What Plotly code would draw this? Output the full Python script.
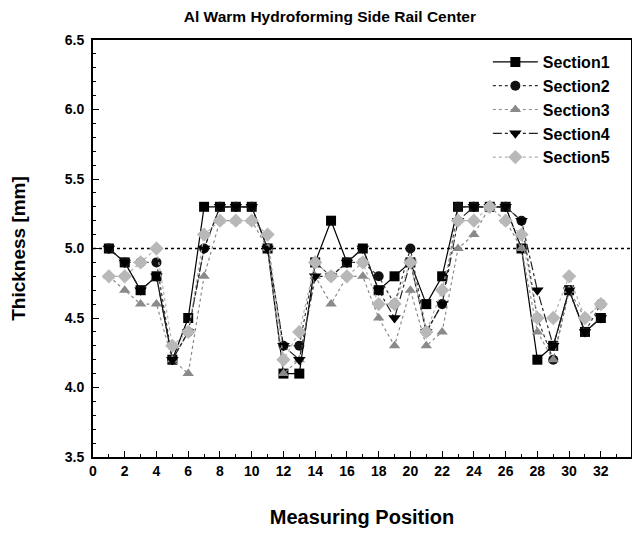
import plotly.graph_objects as go

positions = list(range(1, 33))
section1 = [5.0, 4.9, 4.7, 4.8, 4.2, 4.5, 5.3, 5.3, 5.3, 5.3, 5.0, 4.1, 4.1, 4.9, 5.2, 4.9,
            5.0, 4.7, 4.8, 4.9, 4.6, 4.8, 5.3, 5.3, 5.3, 5.3, 5.0, 4.2, 4.3, 4.7, 4.4, 4.5]
section2 = [5.0, 4.9, 4.9, 4.9, 4.2, 4.4, 5.0, 5.3, 5.3, 5.3, 5.0, 4.3, 4.3, 4.9, 4.8, 4.9,
            4.9, 4.8, 4.6, 5.0, 4.4, 4.6, 5.3, 5.3, 5.3, 5.3, 5.2, 4.5, 4.2, 4.7, 4.4, 4.6]
section3 = [4.8, 4.7, 4.6, 4.6, 4.2, 4.1, 4.8, 5.2, 5.2, 5.2, 5.0, 4.1, 4.2, 4.8, 4.6, 4.8,
            4.8, 4.5, 4.3, 4.7, 4.3, 4.4, 5.0, 5.1, 5.3, 5.2, 5.0, 4.4, 4.2, 4.7, 4.5, 4.6]
section4 = [5.0, 4.9, 4.7, 4.8, 4.2, 4.4, 5.0, 5.3, 5.3, 5.3, 5.0, 4.3, 4.2, 4.8, 4.8, 4.9,
            5.0, 4.7, 4.5, 4.9, 4.4, 4.6, 5.2, 5.3, 5.3, 5.3, 5.2, 4.7, 4.3, 4.7, 4.4, 4.5]
section5 = [4.8, 4.8, 4.9, 5.0, 4.3, 4.4, 5.1, 5.2, 5.2, 5.2, 5.1, 4.2, 4.4, 4.9, 4.8, 4.8,
            4.9, 4.6, 4.6, 4.9, 4.4, 4.7, 5.2, 5.2, 5.3, 5.2, 5.1, 4.5, 4.5, 4.8, 4.5, 4.6]
nominal = 5.0

names = ["Section1", "Section2", "Section3", "Section4", "Section5"]
data = [section1, section2, section3, section4, section5]
symbols = ["square", "circle", "triangle-up", "triangle-down", "diamond"]
mcolors = ["#000000", "#111111", "#8a8a8a", "#000000", "#b8b8b8"]
lcolors = ["#000000", "#333333", "#8a8a8a", "#222222", "#b0b0b0"]
dashes = ["solid", "dot", "dot", "dashdot", "dot"]
msizes = [10, 10, 10, 11, 11]

fig = go.Figure()
for n, d, s, mc, lc, ds, ms in zip(names, data, symbols, mcolors, lcolors, dashes, msizes):
    fig.add_trace(go.Scatter(
        x=positions, y=d, name=n, mode="lines+markers",
        line=dict(color=lc, width=1.2, dash=ds),
        marker=dict(symbol=s, size=ms, color=mc, line=dict(width=0)),
    ))

fig.add_shape(type="line", xref="paper", x0=0, x1=1, yref="y", y0=nominal, y1=nominal,
              line=dict(color="black", width=1.5, dash="dot"), layer="below")

font_family = "Liberation Sans, Arial, sans-serif"
fig.update_layout(
    width=640, height=533,
    margin=dict(l=85, r=17, t=32, b=84, autoexpand=False),
    paper_bgcolor="white", plot_bgcolor="white",
    title=dict(text="Al Warm Hydroforming Side Rail Center", x=0.503, xanchor="center",
               y=0.983, yanchor="middle",
               font=dict(family=font_family, size=15.5, color="black", weight="bold")),
    font=dict(family=font_family, color="black"),
    legend=dict(x=0.97, xanchor="right", y=0.988, yanchor="top",
                bgcolor="rgba(0,0,0,0)", borderwidth=0,
                font=dict(family=font_family, size=16, color="black", weight="bold"),
                itemwidth=45, tracegroupgap=0),
    showlegend=True,
)
fig.update_xaxes(
    range=[0, 33.9], tickmode="array", tickvals=list(range(0, 33, 2)),
    ticks="inside", ticklen=6, tickwidth=1.2, tickcolor="black",
    minor=dict(tickvals=list(range(1, 34, 2)), ticks="inside", ticklen=3, tickcolor="black"),
    showline=True, linecolor="black", linewidth=1.8, mirror=True, showgrid=False, zeroline=False,
    automargin=False,
    tickfont=dict(family=font_family, size=14, color="black", weight="bold"),
    title=dict(text="Measuring Position", standoff=32,
               font=dict(family=font_family, size=20, color="black", weight="bold")),
)
fig.update_yaxes(
    range=[3.5, 6.5], dtick=0.5, tick0=3.5, tickformat=".1f",
    ticks="inside", ticklen=6, tickwidth=1.2, tickcolor="black",
    minor=dict(dtick=0.1, ticks="inside", ticklen=3, tickcolor="black"),
    showline=True, linecolor="black", linewidth=1.8, mirror=True, showgrid=False, zeroline=False,
    automargin=False, ticklabelstandoff=4,
    tickfont=dict(family=font_family, size=14, color="black", weight="bold"),
    title=dict(text="Thickness [mm]", standoff=41,
               font=dict(family=font_family, size=19, color="black", weight="bold")),
)

fig.write_html("out.html")
